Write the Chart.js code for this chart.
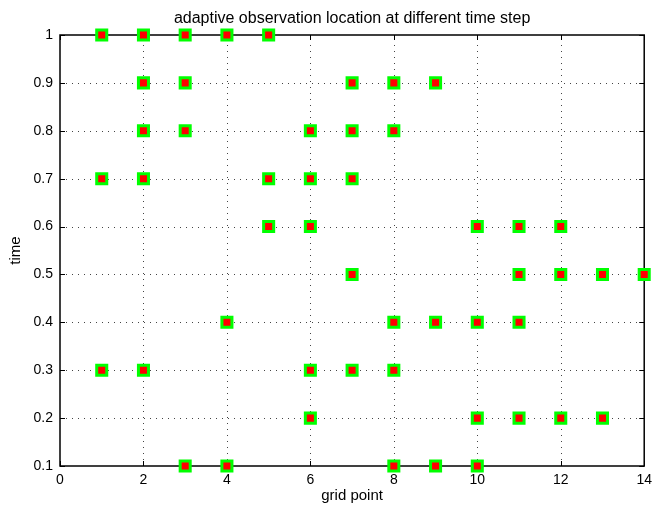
<!DOCTYPE html>
<html>
<head>
<meta charset="utf-8">
<script src="https://cdn.jsdelivr.net/npm/chart.js@4"></script>
<style>
  html, body { margin: 0; padding: 0; background: #fff; }
  canvas { display: block; }
</style>
</head>
<body>
<canvas id="c" width="658" height="508"></canvas>
<script>
// Observation grid points chosen at each time step
const locT10 = [1, 2, 3, 4, 5];      // time 1.0
const locT09 = [2, 3, 7, 8, 9];      // time 0.9
const locT08 = [2, 3, 6, 7, 8];      // time 0.8
const locT07 = [1, 2, 5, 6, 7];      // time 0.7
const locT06 = [5, 6, 10, 11, 12];   // time 0.6
const locT05 = [7, 11, 12, 13, 14];  // time 0.5
const locT04 = [4, 8, 9, 10, 11];    // time 0.4
const locT03 = [1, 2, 6, 7, 8];      // time 0.3
const locT02 = [6, 10, 11, 12, 13];  // time 0.2
const locT01 = [3, 4, 8, 9, 10];     // time 0.1

const timeSteps = [1.0, 0.9, 0.8, 0.7, 0.6, 0.5, 0.4, 0.3, 0.2, 0.1];
const locations = [locT10, locT09, locT08, locT07, locT06, locT05, locT04, locT03, locT02, locT01];

const xTicks = [0, 2, 4, 6, 8, 10, 12, 14];
const yTicks = [0.1, 0.2, 0.3, 0.4, 0.5, 0.6, 0.7, 0.8, 0.9, 1];

const titleText = 'adaptive observation location at different time step';
const xLabel = 'grid point';
const yLabel = 'time';

const points = [];
timeSteps.forEach((t, i) => locations[i].forEach(g => points.push({ x: g, y: t })));

const FONT = '"Liberation Sans", Arial, Helvetica, sans-serif';

// MATLAB-style frame: dotted grid, box, inward ticks, title and axis labels
const framePlugin = {
  id: 'frame',
  beforeDatasetsDraw(chart) {
    const { ctx, chartArea: a, scales: { x, y } } = chart;
    ctx.save();
    ctx.strokeStyle = '#444';
    ctx.lineWidth = 1;
    ctx.setLineDash([1, 5]);
    xTicks.forEach(v => {
      const px = Math.round(x.getPixelForValue(v)) + 0.5;
      if (px <= a.left + 1 || px >= a.right - 1) return;
      ctx.beginPath(); ctx.moveTo(px, a.bottom); ctx.lineTo(px, a.top); ctx.stroke();
    });
    yTicks.forEach(v => {
      const py = Math.round(y.getPixelForValue(v)) + 0.5;
      if (py <= a.top + 1 || py >= a.bottom - 1) return;
      ctx.beginPath(); ctx.moveTo(a.left, py); ctx.lineTo(a.right, py); ctx.stroke();
    });
    ctx.setLineDash([]);

    // box
    ctx.strokeStyle = '#000';
    ctx.lineWidth = 1.5;
    ctx.strokeRect(a.left, a.top, a.right - a.left, a.bottom - a.top);

    // inward ticks on all four sides
    const tl = 5;
    ctx.lineWidth = 1;
    xTicks.forEach(v => {
      const px = Math.round(x.getPixelForValue(v)) + 0.5;
      ctx.beginPath();
      ctx.moveTo(px, a.bottom); ctx.lineTo(px, a.bottom - tl);
      ctx.moveTo(px, a.top); ctx.lineTo(px, a.top + tl);
      ctx.stroke();
    });
    yTicks.forEach(v => {
      const py = Math.round(y.getPixelForValue(v)) + 0.5;
      ctx.beginPath();
      ctx.moveTo(a.left, py); ctx.lineTo(a.left + tl, py);
      ctx.moveTo(a.right, py); ctx.lineTo(a.right - tl, py);
      ctx.stroke();
    });

    // title and axis labels
    ctx.fillStyle = '#000';
    ctx.textAlign = 'center';
    ctx.textBaseline = 'middle';
    const cx = (a.left + a.right) / 2;
    ctx.font = '16px ' + FONT;
    ctx.fillText(titleText, cx, 19);
    ctx.font = '15px ' + FONT;
    ctx.fillText(xLabel, cx, 496);
    ctx.save();
    ctx.translate(16, (a.top + a.bottom) / 2);
    ctx.rotate(-Math.PI / 2);
    ctx.fillText(yLabel, 0, 0);
    ctx.restore();
    ctx.restore();
  }
};

new Chart(document.getElementById('c'), {
  type: 'scatter',
  data: {
    datasets: [{
      data: points,
      pointStyle: 'rect',
      pointRadius: 7.1,
      pointHoverRadius: 7.1,
      backgroundColor: '#ff0000',
      borderColor: '#00ff00',
      borderWidth: 3,
      clip: false
    }]
  },
  options: {
    responsive: false,
    animation: false,
    events: [],
    layout: { padding: { left: 0, top: 35, right: 12, bottom: 0 } },
    plugins: {
      legend: { display: false },
      tooltip: { enabled: false },
      title: { display: false }
    },
    scales: {
      x: {
        type: 'linear',
        min: 0, max: 14,
        afterBuildTicks(s) { s.ticks = xTicks.map(v => ({ value: v })); },
        afterFit(s) { s.height = 42; },
        grid: { display: false, drawTicks: false },
        border: { display: false },
        ticks: {
          padding: 6,
          color: '#000',
          font: { family: FONT, size: 14 },
          callback: v => String(v)
        }
      },
      y: {
        type: 'linear',
        min: 0.1, max: 1,
        afterBuildTicks(s) { s.ticks = yTicks.map(v => ({ value: v })); },
        afterFit(s) { s.width = 60; },
        grid: { display: false, drawTicks: false },
        border: { display: false },
        ticks: {
          padding: 7,
          color: '#000',
          font: { family: FONT, size: 14 },
          callback: v => String(Math.round(v * 10) / 10)
        }
      }
    }
  },
  plugins: [framePlugin]
});
</script>
</body>
</html>
